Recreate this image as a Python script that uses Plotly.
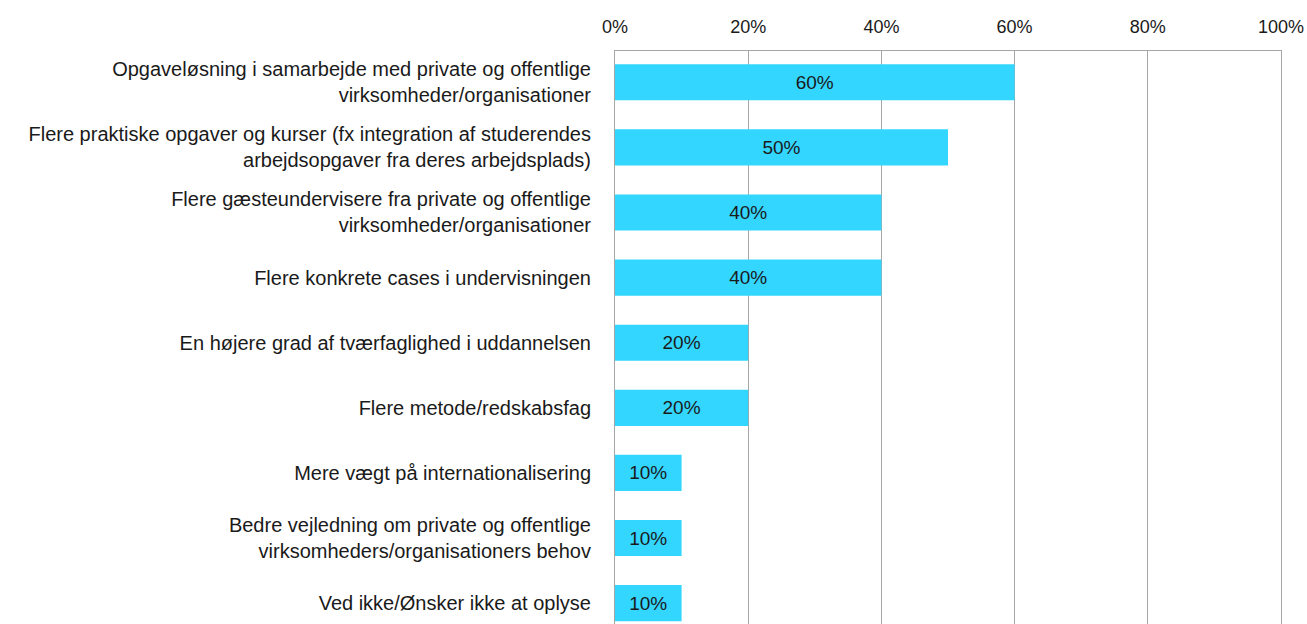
import plotly.graph_objects as go

categories = [
    "Opgaveløsning i samarbejde med private og offentlige<br>virksomheder/organisationer",
    "Flere praktiske opgaver og kurser (fx integration af studerendes<br>arbejdsopgaver fra deres arbejdsplads)",
    "Flere gæsteundervisere fra private og offentlige<br>virksomheder/organisationer",
    "Flere konkrete cases i undervisningen",
    "En højere grad af tværfaglighed i uddannelsen",
    "Flere metode/redskabsfag",
    "Mere vægt på internationalisering",
    "Bedre vejledning om private og offentlige<br>virksomheders/organisationers behov",
    "Ved ikke/Ønsker ikke at oplyse",
]
values = [0.60, 0.50, 0.40, 0.40, 0.20, 0.20, 0.10, 0.10, 0.10]
tick_vals = [0, 0.2, 0.4, 0.6, 0.8, 1.0]
tick_text = ["0%", "20%", "40%", "60%", "80%", "100%"]

FONT = "Liberation Sans"
TXT = "#1a1a1a"
GRID = "#A6A6A6"

fig = go.Figure(
    go.Bar(
        x=values,
        y=categories,
        orientation="h",
        marker=dict(color="#33D6FF", line=dict(width=0)),
        text=[f"{v:.0%}" for v in values],
        textposition="inside",
        insidetextanchor="middle",
        textangle=0,
        textfont=dict(family=FONT, size=19, color=TXT),
        cliponaxis=False,
        hoverinfo="skip",
    )
)

fig.update_layout(
    width=1307,
    height=624,
    margin=dict(l=615, r=26, t=51, b=0, autoexpand=False),
    paper_bgcolor="white",
    plot_bgcolor="white",
    bargap=0.445,
    showlegend=False,
    font=dict(family=FONT, size=18, color=TXT),
)

fig.update_xaxes(
    side="top",
    range=[0, 1],
    tickvals=tick_vals,
    ticktext=tick_text,
    showgrid=True,
    gridcolor=GRID,
    gridwidth=1,
    zeroline=False,
    showline=True,
    linecolor=GRID,
    linewidth=1,
    mirror=False,
    ticks="outside",
    ticklen=10,
    tickcolor="rgba(0,0,0,0)",
    tickfont=dict(family=FONT, size=18, color=TXT),
    fixedrange=True,
)

fig.update_yaxes(
    type="category",
    categoryorder="array",
    categoryarray=categories,
    range=[8.32, -0.48],
    showgrid=False,
    zeroline=False,
    showline=True,
    linecolor=GRID,
    linewidth=1,
    mirror=True,
    ticks="outside",
    ticklen=19,
    tickcolor="rgba(0,0,0,0)",
    tickfont=dict(family=FONT, size=20, color=TXT),
    fixedrange=True,
)

fig.write_html(
    "out.html",
    config={"displayModeBar": False},
    post_script="document.body.style.margin='0';document.body.style.overflow='hidden';",
)
